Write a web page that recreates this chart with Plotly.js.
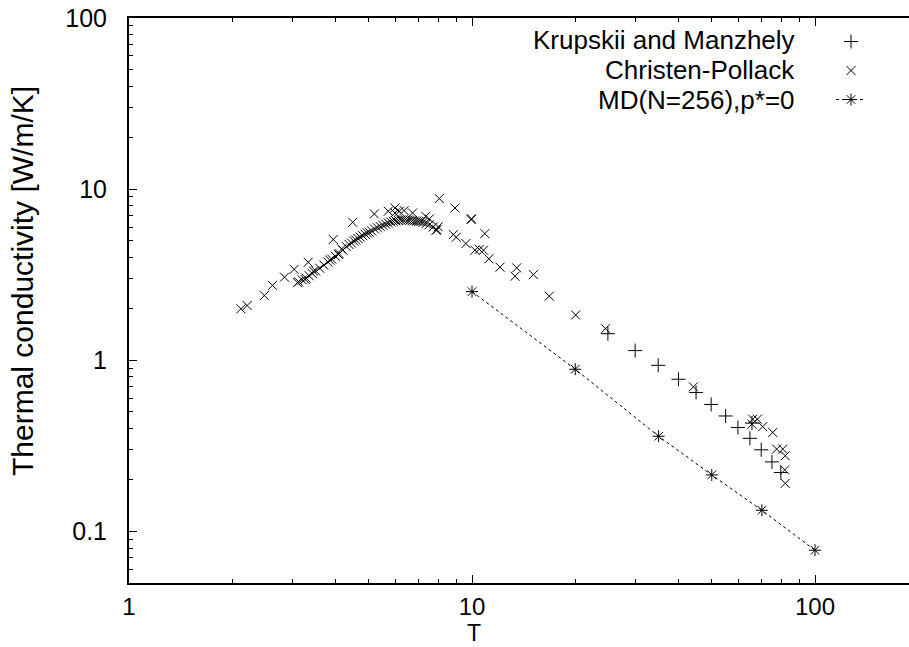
<!DOCTYPE html>
<html>
<head>
<meta charset="utf-8">
<script src="https://cdn.plot.ly/plotly-3.0.1.min.js"></script>
<style>html,body{margin:0;padding:0;background:#fff;}#chart{width:909px;height:647px;}</style>
</head>
<body>
<div id="chart"></div>
<script>
// Krupskii and Manzhely (+)
var krupT = [24.9, 29.9, 34.9, 40.0, 45.0, 49.8, 54.9, 59.6, 64.6, 65.5, 69.7, 74.9, 79.5];
var krupK = [1.43, 1.14, 0.935, 0.775, 0.648, 0.552, 0.473, 0.405, 0.35, 0.43, 0.30, 0.255, 0.221];

// Christen-Pollack (x)
var cpT = [2.12, 2.21, 2.48, 2.62, 2.84, 3.03, 3.10, 3.26, 3.33, 3.45, 3.85, 3.94, 4.08, 4.17, 4.49,
           5.19, 5.70, 5.96, 5.96, 6.14, 6.34, 6.71, 7.33, 7.51, 8.03, 7.97, 7.86, 8.92, 8.82, 9.0,
           9.6, 9.94, 9.96, 10.2, 10.5, 10.9, 10.8, 11.2, 12.07, 13.5, 13.35, 15.1, 16.8, 20.05, 24.5,
           44.2, 65.8, 65.5, 67.9, 70.4, 75.3, 77.3, 80.5, 81.9, 81.6, 81.9,
           3.12, 3.2, 3.28, 3.35, 3.42, 3.5, 3.6, 3.7, 3.8, 3.9, 4.0, 4.1, 4.2, 4.3, 4.38, 4.45, 4.52,
           4.58, 4.65, 4.72, 4.8, 4.88, 4.95, 5.02, 5.1, 5.2, 5.3, 5.4, 5.5, 5.6, 5.7, 5.8, 5.9, 6.0,
           6.1, 6.2, 6.3, 6.4, 6.5, 6.6, 6.7, 6.8, 6.9, 7.0, 7.1, 7.2, 7.35, 7.5, 7.7, 7.9];
var cpK = [2.0, 2.09, 2.39, 2.74, 3.06, 3.40, 2.84, 2.97, 3.74, 3.32, 3.85, 5.08, 4.15, 4.48, 6.40,
           7.17, 7.43, 7.76, 7.26, 7.43, 7.5, 7.26, 6.93, 6.7, 8.81, 6.03, 5.75, 7.76, 5.43, 5.24,
           4.81, 6.64, 6.72, 4.40, 4.45, 5.50, 4.40, 3.92, 3.50, 3.47, 3.10, 3.17, 2.37, 1.84, 1.53,
           0.70, 0.453, 0.424, 0.453, 0.41, 0.379, 0.303, 0.303, 0.277, 0.229, 0.191,
           2.88, 2.95, 3.02, 3.12, 3.22, 3.33, 3.45, 3.6, 3.75, 3.9, 4.05, 4.2, 4.4, 4.62, 4.75, 4.85, 4.98,
           5.05, 5.15, 5.25, 5.35, 5.45, 5.55, 5.6, 5.7, 5.85, 5.95, 6.05, 6.15, 6.25, 6.35, 6.42, 6.48, 6.52,
           6.56, 6.6, 6.62, 6.62, 6.6, 6.58, 6.55, 6.52, 6.5, 6.48, 6.45, 6.4, 6.3, 6.2, 6.0, 5.8];

// MD(N=256), p*=0
var mdT = [10, 20, 35, 50, 70, 100];
var mdK = [2.52, 0.887, 0.36, 0.214, 0.133, 0.0777];

var legendNames = ["Krupskii and Manzhely", "Christen-Pollack", "MD(N=256),p*=0"];
var xTitle = "T";
var yTitle = "Thermal conductivity [W/m/K]";

var FONT = "Liberation Sans, Arial, Helvetica, sans-serif";

var traces = [
  {x: krupT, y: krupK, type: "scatter", mode: "markers", name: "",
   hovertext: legendNames[0],
   marker: {symbol: "cross-thin", size: 10, color: "#000", line: {color: "#000", width: 1}}},
  {x: cpT, y: cpK, type: "scatter", mode: "markers", name: "",
   hovertext: legendNames[1],
   marker: {symbol: "x-thin", size: 9, color: "#000", line: {color: "#000", width: 1}}},
  {x: mdT, y: mdK, type: "scatter", mode: "lines+markers", name: "",
   hovertext: legendNames[2],
   line: {color: "#000", width: 1, dash: "dot"},
   marker: {symbol: "asterisk", size: 10, color: "#000", line: {color: "#000", width: 1}}}
];

function py(p) { return 1 - (p - 18) / 565; }
function px(p) { return (p - 129) / 780; }

var annotations = legendNames.map(function (n, i) {
  return {xref: "paper", yref: "paper", x: px(797), y: py(40 + 30 * i),
          xanchor: "right", yanchor: "middle", text: n, showarrow: false,
          font: {family: FONT, size: 26, color: "#000"}};
});
annotations.push({xref: "paper", yref: "paper", x: px(474), y: py(647), xanchor: "center", yanchor: "bottom",
                  borderpad: 0,
                  text: xTitle, showarrow: false, font: {family: FONT, size: 23, color: "#000"}});
annotations.push({xref: "paper", yref: "paper", x: px(23), y: py(281), xanchor: "center", yanchor: "middle",
                  text: yTitle, textangle: -90, showarrow: false, font: {family: FONT, size: 30, color: "#000"}});

var layout = {
  width: 909, height: 647,
  margin: {l: 129, r: 0, t: 18, b: 64, pad: 0},
  paper_bgcolor: "#fff", plot_bgcolor: "#fff",
  font: {family: FONT, size: 24, color: "#000"},
  showlegend: true,
  legend: {x: px(831), xanchor: "left", y: py(22), yanchor: "top",
           bgcolor: "rgba(0,0,0,0)", borderwidth: 0, font: {family: FONT, size: 20},
           itemwidth: 30, tracegroupgap: 0},
  xaxis: {
    type: "log", range: [0, 780 / 343],
    showgrid: false, zeroline: false,
    showline: true, linecolor: "#000", linewidth: 2, mirror: "ticks",
    ticks: "inside", ticklen: 8, tickwidth: 1, tickcolor: "#000",
    tickvals: [1, 10, 100], ticktext: ["1", "10", "100"],
    minor: {tickvals: [2,3,4,5,6,7,8,9,20,30,40,50,60,70,80,90,200], ticks: "inside", ticklen: 4, tickwidth: 1, tickcolor: "#000", showgrid: false},
    tickfont: {family: FONT, size: 24, color: "#000"},
    ticklabelstandoff: 1,
    automargin: false
  },
  yaxis: {
    type: "log", range: [Math.log10(0.05), 2],
    showgrid: false, zeroline: false,
    showline: true, linecolor: "#000", linewidth: 2,
    ticks: "inside", ticklen: 8, tickwidth: 1, tickcolor: "#000",
    tickvals: [0.1, 1, 10, 100], ticktext: ["0.1", "1", "10", "100"],
    minor: {tickvals: [0.06,0.07,0.08,0.09,0.2,0.3,0.4,0.5,0.6,0.7,0.8,0.9,2,3,4,5,6,7,8,9,20,30,40,50,60,70,80,90], ticks: "inside", ticklen: 4, tickwidth: 1, tickcolor: "#000", showgrid: false},
    tickfont: {family: FONT, size: 25, color: "#000"},
    ticklabelstandoff: 15,
    automargin: false
  },
  annotations: annotations
};

Plotly.newPlot("chart", traces, layout, {displayModeBar: false, staticPlot: true});
</script>
</body>
</html>
